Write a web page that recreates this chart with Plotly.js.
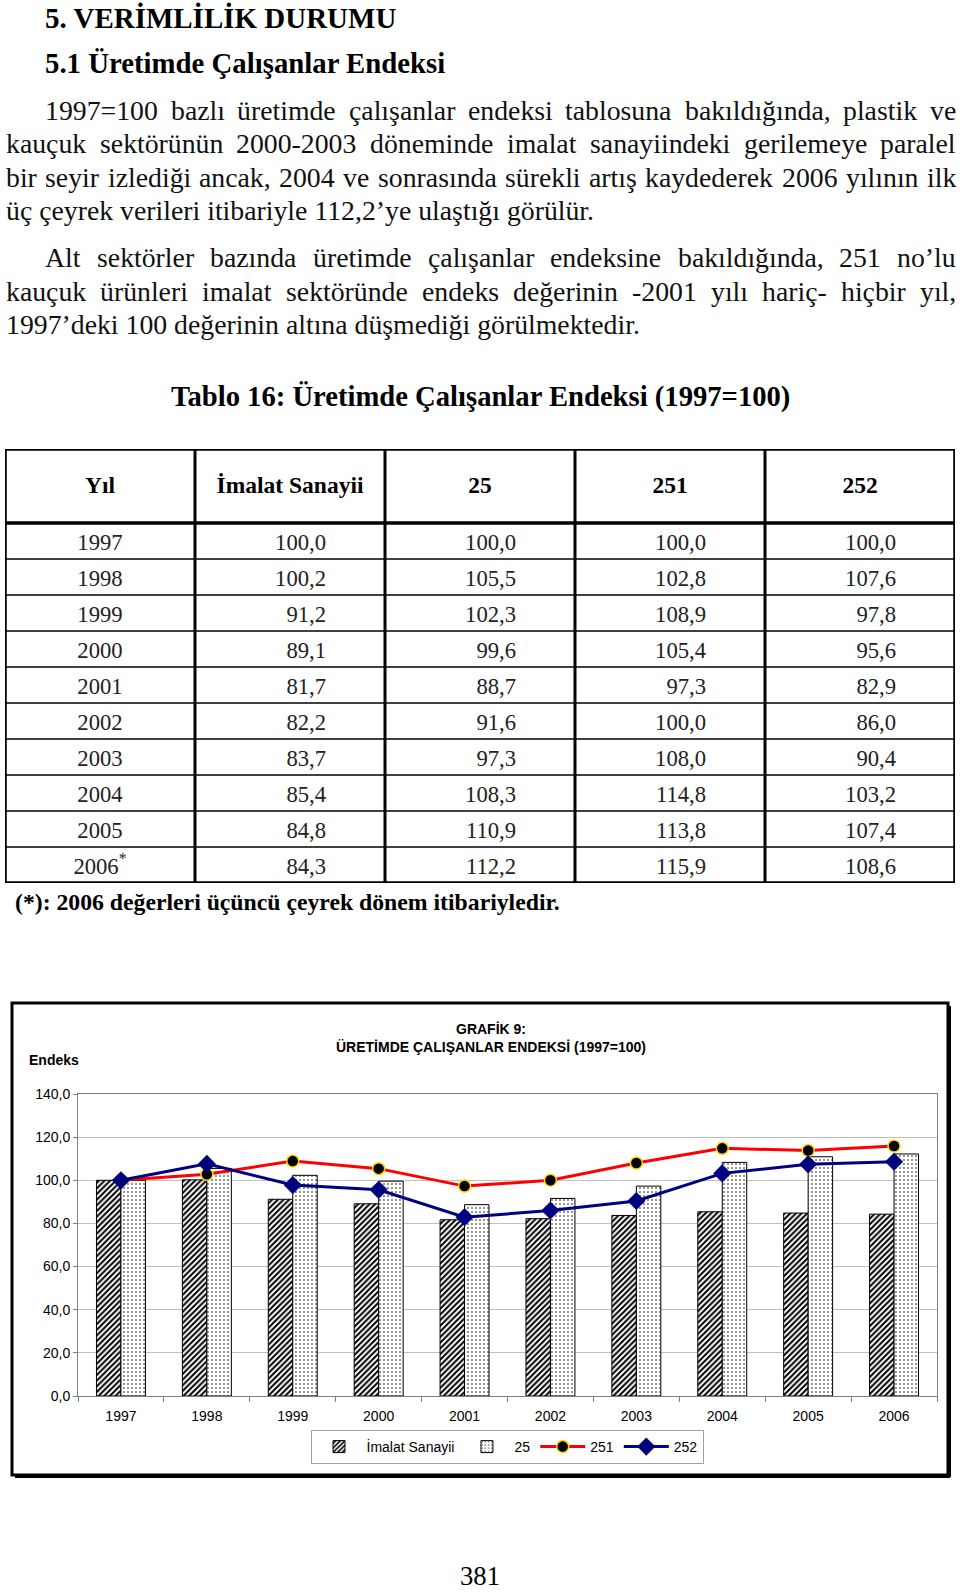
<!DOCTYPE html>
<html><head><meta charset="utf-8">
<script src="https://cdn.plot.ly/plotly-3.0.1.min.js"></script>
<style>html,body{margin:0;padding:0;background:#fff;} #page{width:960px;height:1593px;}</style>
</head><body><div id="page"></div>
<script>
// ---------- DATA ----------
const years = ['1997','1998','1999','2000','2001','2002','2003','2004','2005','2006'];
const imalatSanayii = [100.0,100.2,91.2,89.1,81.7,82.2,83.7,85.4,84.8,84.3];
const sektor25 = [100.0,105.5,102.3,99.6,88.7,91.6,97.3,108.3,110.9,112.2];
const sektor251 = [100.0,102.8,108.9,105.4,97.3,100.0,108.0,114.8,113.8,115.9];
const sektor252 = [100.0,107.6,97.8,95.6,82.9,86.0,90.4,103.2,107.4,108.6];
const tableHeaders = ['Yıl','İmalat Sanayii','25','251','252'];
const seriesNames = ['İmalat Sanayii','25','251','252'];
const footnoteYear = '2006';

const heading1 = '5. VERİMLİLİK DURUMU';
const heading2 = '5.1 Üretimde Çalışanlar Endeksi';
const para1 = [
 '1997=100 bazlı üretimde çalışanlar endeksi tablosuna bakıldığında, plastik ve',
 'kauçuk sektörünün 2000-2003 döneminde imalat sanayiindeki gerilemeye paralel',
 'bir seyir izlediği ancak, 2004 ve sonrasında sürekli artış kaydederek 2006 yılının ilk',
 'üç çeyrek verileri itibariyle 112,2’ye ulaştığı görülür.'
];
const para2 = [
 'Alt sektörler bazında üretimde çalışanlar endeksine bakıldığında,  251 no’lu',
 'kauçuk ürünleri imalat sektöründe endeks değerinin -2001 yılı hariç- hiçbir yıl,',
 '1997’deki 100 değerinin altına düşmediği görülmektedir.'
];
const tableTitle = 'Tablo 16: Üretimde Çalışanlar Endeksi (1997=100)';
const footnote = '(*): 2006 değerleri üçüncü çeyrek dönem itibariyledir.';
const chartTitle = 'GRAFİK 9:<br>ÜRETİMDE ÇALIŞANLAR ENDEKSİ (1997=100)';
const yLabel = 'Endeks';
const pageNumber = '381';

// ---------- HELPERS ----------
const W = 960, H = 1593;
const px = x => x / W, py = y => 1 - y / H;
const SERIF = 'Liberation Serif', SANS = 'Liberation Sans';
const ctx = document.createElement('canvas').getContext('2d');
function tw(text, size, family, bold) { ctx.font = (bold ? 'bold ' : '') + size + 'px "' + family + '"'; return ctx.measureText(text).width; }
function fit(text, target, family, bold) { return target / tw(text, 100, family, bold) * 100; }
const fmt = v => v.toFixed(1).replace('.', ',');

const annotations = [];
function addText(text, x, y, size, o = {}) {
  annotations.push({text, x: px(x), y: py(y), xref: 'paper', yref: 'paper',
    xanchor: o.anchor || 'left', yanchor: 'middle', showarrow: false, borderpad: 0,
    font: {family: o.family || SERIF, size, color: o.color || '#000', weight: o.bold ? 'bold' : 'normal'}});
}
function justify(line, x0, x1, y, size) {
  const words = line.split(/\s+/).filter(Boolean);
  const ws = words.map(w => tw(w, size, SERIF, false));
  const total = ws.reduce((a, b) => a + b, 0);
  const gap = Math.max((x1 - x0 - total) / (words.length - 1), size * 0.2);
  let x = x0;
  words.forEach((w, i) => { addText(w, x, y, size, {color: '#111'}); x += ws[i] + gap; });
}

// ---------- PAGE TEXT ----------
addText(heading1, 44, 18, fit(heading1, 352, SERIF, true), {bold: true});
addText(heading2, 44, 63, fit(heading2, 401, SERIF, true), {bold: true});

const pSize = (fit(para1[3], 582, SERIF) + fit(para2[2], 641, SERIF)) / 2;
const p1y = [110, 143, 177, 210];
para1.forEach((l, i) => {
  if (i === para1.length - 1) addText(l, 5, p1y[i], pSize, {color: '#111'});
  else justify(l, i === 0 ? 44 : 5, 955, p1y[i], pSize);
});
const p2y = [257, 291, 324];
para2.forEach((l, i) => {
  if (i === para2.length - 1) addText(l, 5, p2y[i], pSize, {color: '#111'});
  else justify(l, i === 0 ? 44 : 5, 955, p2y[i], pSize);
});
addText(tableTitle, 480, 397, fit(tableTitle, 620, SERIF, true), {bold: true, anchor: 'center'});
addText(footnote, 14, 902, fit(footnote, 545, SERIF, true), {bold: true});
addText(pageNumber, 480, 1576, fit(pageNumber, 40, SERIF), {anchor: 'center'});
addText(yLabel, 28, 1060, 14, {family: SANS, bold: true});

// ---------- TABLE (axes x2/y2 : columns 0..5, rows -hdr..10) ----------
const hdr = 74 / 36;
const nRows = years.length, nCols = tableHeaders.length;
const cellSize = fit('100,0', 51, SERIF);
const headSize = fit(tableHeaders[1], 147, SERIF, true);
const tableTraces = [];
tableTraces.push({type: 'scatter', mode: 'text', xaxis: 'x2', yaxis: 'y2', showlegend: false, hoverinfo: 'skip', cliponaxis: false,
  x: tableHeaders.map((h, i) => i + 0.5), y: tableHeaders.map(() => -hdr / 2 + 0.03), text: tableHeaders,
  textposition: 'middle center', textfont: {family: SERIF, size: headSize, color: '#000', weight: 'bold'}});
tableTraces.push({type: 'scatter', mode: 'text', xaxis: 'x2', yaxis: 'y2', showlegend: false, hoverinfo: 'skip', cliponaxis: false,
  x: years.map(() => 0.5), y: years.map((y, i) => i + 0.58),
  text: years.map(y => y === footnoteYear ? y + '<sup>*</sup>' : y),
  textposition: 'middle center', textfont: {family: SERIF, size: cellSize, color: '#222'}});
[imalatSanayii, sektor25, sektor251, sektor252].forEach((s, c) => {
  tableTraces.push({type: 'scatter', mode: 'text', xaxis: 'x2', yaxis: 'y2', showlegend: false, hoverinfo: 'skip', cliponaxis: false,
    x: s.map(() => c + 1 + 0.69), y: s.map((v, i) => i + 0.58), text: s.map(fmt),
    textposition: 'middle left', textfont: {family: SERIF, size: cellSize, color: '#222'}});
});
const shapes = [];
shapes.push({type: 'rect', xref: 'x2', yref: 'y2', x0: 0, x1: nCols, y0: -hdr, y1: nRows, line: {color: '#000', width: 3.5}});
for (let c = 1; c < nCols; c++) shapes.push({type: 'line', xref: 'x2', yref: 'y2', x0: c, x1: c, y0: -hdr, y1: nRows, line: {color: '#000', width: 3}});
shapes.push({type: 'line', xref: 'x2', yref: 'y2', x0: 0, x1: nCols, y0: 0, y1: 0, line: {color: '#000', width: 3.5}});
for (let r = 1; r < nRows; r++) shapes.push({type: 'line', xref: 'x2', yref: 'y2', x0: 0, x1: nCols, y0: r, y1: r, line: {color: '#000', width: 1.6}});

// chart frame
shapes.push({type: 'rect', xref: 'paper', yref: 'paper', x0: px(12), x1: px(948), y0: py(1475), y1: py(1003), line: {color: '#000', width: 3}});
shapes.push({type: 'line', xref: 'paper', yref: 'paper', x0: px(15), x1: px(950), y0: py(1477), y1: py(1477), line: {color: '#000', width: 2}});
shapes.push({type: 'line', xref: 'paper', yref: 'paper', x0: px(950), x1: px(950), y0: py(1006), y1: py(1477), line: {color: '#000', width: 2}});

// ---------- CHART ----------
const chartTraces = [
  {type: 'bar', name: seriesNames[0], x: years, y: imalatSanayii,
   marker: {color: 'white', line: {color: '#000', width: 1}, pattern: {shape: '/', fgcolor: '#000', bgcolor: '#fff', size: 4, solidity: 0.5}}},
  {type: 'bar', name: seriesNames[1], x: years, y: sektor25,
   marker: {color: 'white', line: {color: '#000', width: 1}, pattern: {shape: '.', fgcolor: '#000', bgcolor: '#fff', size: 4, solidity: 0.12}}},
  {type: 'scatter', mode: 'lines+markers', name: seriesNames[2], x: years, y: sektor251,
   line: {color: '#ff0000', width: 3}, marker: {symbol: 'circle', size: 12, color: '#000', line: {color: '#ffd700', width: 1.5}}},
  {type: 'scatter', mode: 'lines+markers', name: seriesNames[3], x: years, y: sektor252,
   line: {color: '#000080', width: 3}, marker: {symbol: 'diamond', size: 14, color: '#000080'}}
];

const tickFont = {family: SANS, size: 14, color: '#000'};
const layout = {
  width: W, height: H, margin: {l: 0, r: 0, t: 0, b: 0},
  paper_bgcolor: '#fff', plot_bgcolor: '#fff', separators: ',.',
  barmode: 'group', bargap: 0.43, bargroupgap: 0,
  title: {text: chartTitle, x: px(491), y: py(1034), xref: 'paper', yref: 'paper', xanchor: 'center', yanchor: 'middle',
          font: {family: SANS, size: 14, color: '#000', weight: 'bold'}},
  xaxis: {type: 'category', domain: [px(78), px(937)], range: [-0.5, years.length - 0.5], autorange: false, anchor: 'y',
          showline: true, linecolor: '#808080', linewidth: 1, mirror: true,
          ticks: 'outside', tickson: 'boundaries', ticklen: 5, tickcolor: '#808080', showgrid: false, tickfont: tickFont,
          ticklabelstandoff: 7, fixedrange: true},
  yaxis: {domain: [py(1396), py(1094)], anchor: 'x', range: [0, 140], dtick: 20, tickformat: '.1f', showline: true,
          linecolor: '#808080', linewidth: 1, mirror: true, showgrid: true, gridcolor: '#c0c0c0', gridwidth: 1, zeroline: false,
          ticks: 'outside', ticklen: 4, tickcolor: '#808080', tickfont: tickFont, fixedrange: true},
  xaxis2: {domain: [px(5), px(955)], range: [0, 5], anchor: 'y2', visible: false, fixedrange: true},
  yaxis2: {domain: [py(883), py(449)], range: [10, -hdr], anchor: 'x2', visible: false, fixedrange: true},
  showlegend: true,
  legend: {orientation: 'h', x: px(507), y: py(1447), xanchor: 'center', yanchor: 'middle', bordercolor: '#a0a0a0', borderwidth: 1,
           bgcolor: '#fff', font: {family: SANS, size: 14, color: '#000'}, traceorder: 'normal', itemwidth: 45},
  shapes, annotations
};

Plotly.newPlot('page', chartTraces.concat(tableTraces), layout, {staticPlot: true, displayModeBar: false});
</script></body></html>
